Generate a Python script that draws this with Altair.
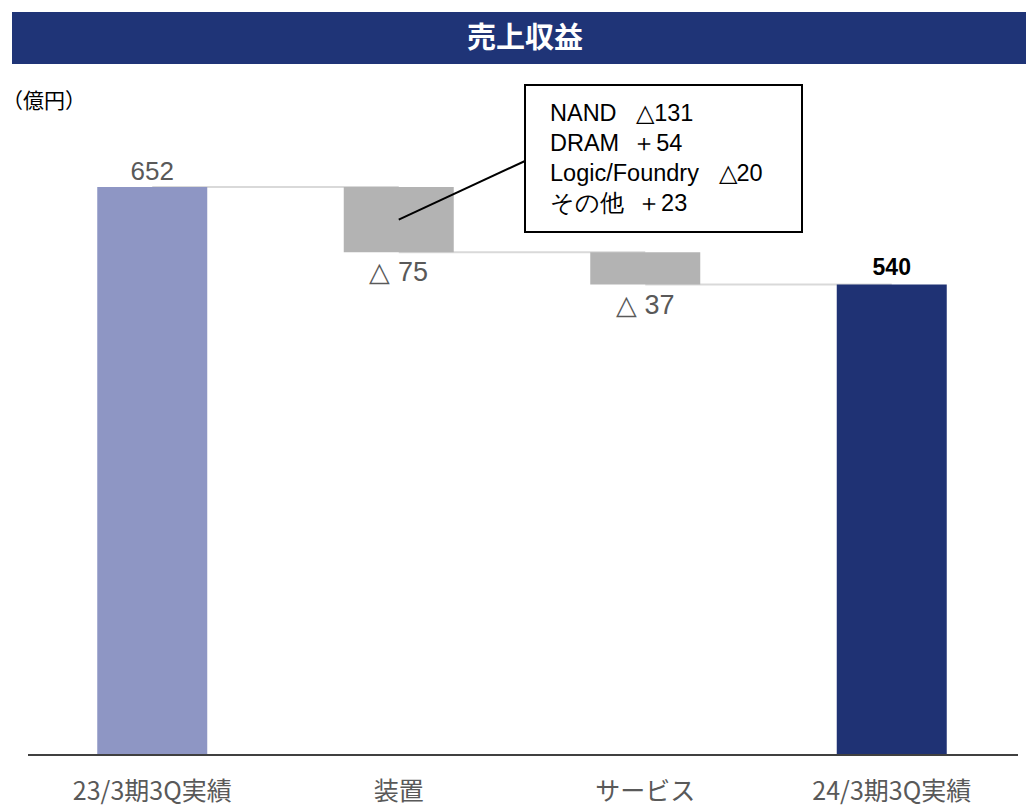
import altair as alt
import pandas as pd

# ---- data ----
categories = ["23/3期3Q実績", "装置", "サービス", "24/3期3Q実績"]
values = [652, -75, -37, 540]
kinds = ["total", "delta", "delta", "total"]
labels = ["652", "△ 75", "△ 37", "540"]
breakdown_lines = ["NAND\u00a0\u00a0\u00a0△131", "DRAM\u00a0\u00a0＋54", "Logic/Foundry\u00a0\u00a0\u00a0△20", "その他\u00a0\u00a0＋23"]
title_text = "売上収益"
unit_text = "（億円）"

# waterfall start / end
starts, ends = [], []
running = 0
for v, k in zip(values, kinds):
    if k == "total":
        starts.append(0)
        ends.append(v)
        running = v
    else:
        starts.append(running)
        ends.append(running + v)
        running = running + v

df = pd.DataFrame({
    "cat": categories,
    "start": starts,
    "end": ends,
    "kind": kinds,
    "label": labels,
    "color": ["#8E96C4", "#B3B3B3", "#B3B3B3", "#1F3274"],
})
df["mid"] = (df["start"] + df["end"]) / 2
df["low"] = df[["start", "end"]].min(axis=1)
df["high"] = df[["start", "end"]].max(axis=1)

conn = pd.DataFrame({
    "cat": categories[:-1],
    "next": categories[1:],
    "level": ends[:-1],
})

ymax = max(ends)
xscale = alt.Scale(domain=categories, range=[29, 1015], paddingInner=0, paddingOuter=0)
yscale = alt.Scale(domain=[0, ymax], range=[755, 187], nice=False, zero=False)
X = alt.X("cat:N", scale=xscale, axis=None, sort=categories)

one = alt.Data(values=[{"a": 1}])

title_bar = alt.Chart(one).mark_rect(color="#1F3477").encode(
    x=alt.value(12), x2=alt.value(1026), y=alt.value(12), y2=alt.value(64)
)
title = alt.Chart(one).mark_text(
    text=title_text, color="white", fontSize=29, fontWeight="bold",
    font="Noto Sans CJK JP", align="center", baseline="middle"
).encode(x=alt.value(525), y=alt.value(39))
unit = alt.Chart(one).mark_text(
    text=unit_text, color="black", fontSize=21, font="Noto Sans CJK JP",
    align="left", baseline="middle"
).encode(x=alt.value(2), y=alt.value(102))

connectors = alt.Chart(conn).mark_rule(color="#D9D9D9", strokeWidth=2).encode(
    x=alt.X("cat:N", scale=xscale, axis=None),
    x2="next:N",
    y=alt.Y("level:Q", scale=yscale, axis=None),
)

bars = alt.Chart(df).mark_bar(size=110).encode(
    x=X,
    y=alt.Y("start:Q", scale=yscale, axis=None),
    y2="end:Q",
    color=alt.Color("color:N", scale=None),
)

axis_line = alt.Chart(one).mark_rule(color="#404040", strokeWidth=2).encode(
    x=alt.value(28), x2=alt.value(1018), y=alt.Y("z:Q", scale=yscale, axis=None)
).transform_calculate(z="0")

first_label = alt.Chart(df).transform_filter(alt.datum.cat == categories[0]).mark_text(
    fontSize=26, color="#595959", font="Liberation Sans", baseline="bottom", dy=-2
).encode(x=X, y=alt.Y("high:Q", scale=yscale, axis=None), text="label:N")

last_label = alt.Chart(df).transform_filter(alt.datum.cat == categories[-1]).mark_text(
    fontSize=23, color="black", fontWeight="bold", font="Liberation Sans", baseline="bottom", dy=-5
).encode(x=X, y=alt.Y("high:Q", scale=yscale, axis=None), text="label:N")

delta_labels = alt.Chart(df).transform_filter(alt.datum.kind == "delta").mark_text(
    fontSize=27, color="#595959", font="Liberation Sans", baseline="top", dy=8
).encode(x=X, y=alt.Y("low:Q", scale=yscale, axis=None), text="label:N")

cat_labels = alt.Chart(df).mark_text(
    fontSize=25, color="#595959", font="Noto Sans CJK JP", baseline="middle"
).encode(x=X, y=alt.value(792), text="cat:N")

leader = alt.Chart(df).transform_filter(alt.datum.cat == categories[1]).mark_rule(
    color="black", strokeWidth=2
).encode(
    x=X, y=alt.Y("mid:Q", scale=yscale, axis=None),
    x2=alt.value(525), y2=alt.value(161),
)

box = alt.Chart(one).mark_rect(fill="white", stroke="black", strokeWidth=2).encode(
    x=alt.value(525), x2=alt.value(802), y=alt.value(85), y2=alt.value(232)
)
box_text = alt.Chart(one).mark_text(
    text="\n".join(breakdown_lines), lineBreak="\n", lineHeight=30,
    fontSize=23.5, color="black", font="Liberation Sans", align="left", baseline="alphabetic"
).encode(x=alt.value(550), y=alt.value(121))

chart = alt.layer(
    title_bar, title, unit, connectors, bars, axis_line,
    first_label, last_label, delta_labels, cat_labels, leader, box, box_text
).properties(
    width=1026, height=808,
    autosize=alt.AutoSizeParams(type="none"),
    padding={"left": 0, "top": 0, "right": 0, "bottom": 0},
).configure_view(stroke=None)

chart.save("out.html", embed_options={"renderer": "svg", "actions": False})
